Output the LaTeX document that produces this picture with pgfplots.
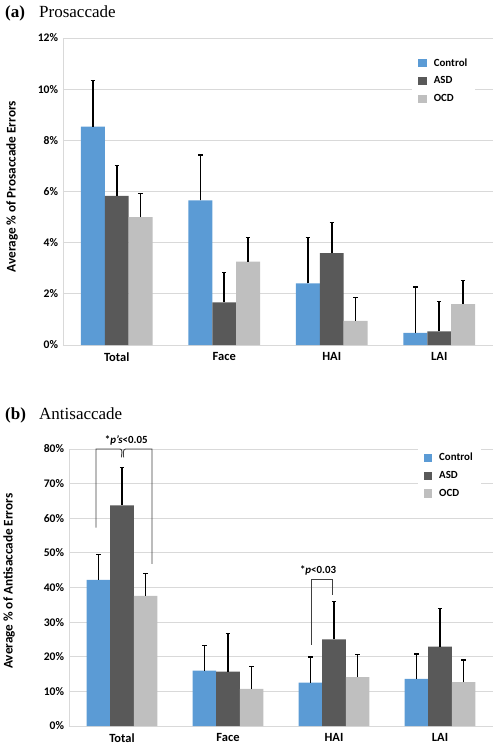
\documentclass[border=0pt]{standalone}
\usepackage{fontspec}
\setmainfont{Liberation Serif}
\newfontfamily\calib{Carlito}
\usepackage{pgfplots}
\usepackage{pgfplotstable}
\pgfplotsset{compat=1.18}
\definecolor{ctrl}{HTML}{5B9BD5}
\definecolor{asd}{HTML}{595959}
\definecolor{ocd}{HTML}{BFBFBF}
\definecolor{gridc}{HTML}{D9D9D9}
\definecolor{brk}{HTML}{404040}

\pgfplotstableread{
x c ce a ae o oe
0 8.54 1.80 5.83 1.19 5.00 0.93
1 5.65 1.78 1.67 1.17 3.26 0.94
2 2.41 1.80 3.59 1.20 0.94 0.93
3 0.47 1.80 0.53 1.18 1.60 0.92
}\proTab

\pgfplotstableread{
x c ce a ae o oe
0 42.2 7.4 63.7 11.0 37.6 6.5
1 16.0 7.3 15.7 11.1 10.7 6.5
2 12.5 7.4 25.0 11.0 14.1 6.6
3 13.6 7.2 22.9 11.0 12.7 6.4
}\antiTab

\pgfplotsset{
  mybar/.style={
    ybar, scale only axis,
    xmin=-0.5, xmax=3.5,
    xtick={0,1,2,3}, xticklabels={Total,Face,HAI,LAI},
    ymin=0,
    bar width=0.222,
    ymajorgrids, grid style={gridc, line width=0.8pt},
    axis x line*=bottom, axis y line*=left,
    axis line style={gridc, line width=0.8pt, -},
    major tick length=0,
    yticklabel style={font=\calib\bfseries\fontsize{11.6}{13}\selectfont, xshift=-1.5pt},
    xticklabel style={font=\calib\bfseries\fontsize{12.5}{14}\selectfont, yshift=-4pt},
    ylabel style={font=\calib\bfseries\fontsize{13.2}{15}\selectfont, anchor=center},
    legend cell align=left,
    legend style={draw=none, fill=white, font=\calib\bfseries\fontsize{10.9}{12}\selectfont,
      anchor=north west, row sep=5pt, inner xsep=6pt, inner ysep=4pt,
      /tikz/every odd column/.append style={column sep=5pt}},
    legend image code/.code={\fill[##1] (0pt,-4.2pt) rectangle (8.5pt,4.2pt);},
    clip=false,
  },
  myerr/.style={
    error bars/.cd, y dir=plus, y explicit,
    error bar style={black, line width=1.6pt},
    error mark options={rotate=90, black, line width=1.3pt, mark size=2.2pt},
  },
}

\begin{document}
\begin{tikzpicture}
\useasboundingbox (0,0) rectangle (501pt,-750pt);

\node[anchor=base west, inner sep=0pt, font=\fontsize{17}{20}\selectfont\bfseries] at (5pt,-17pt) {(a)};
\node[anchor=base west, inner sep=0pt, font=\fontsize{17}{20}\selectfont] at (39pt,-17pt) {Prosaccade};
\node[anchor=base west, inner sep=0pt, font=\fontsize{17}{20}\selectfont\bfseries] at (5pt,-419pt) {(b)};
\node[anchor=base west, inner sep=0pt, font=\fontsize{17}{20}\selectfont] at (39pt,-419pt) {Antisaccade};

\begin{axis}[mybar,
  at={(63pt,-345pt)}, anchor=south west,
  width=430pt, height=307pt,
  ymax=12, ytick={0,2,4,6,8,10,12},
  yticklabels={0\%,2\%,4\%,6\%,8\%,10\%,12\%},
  ylabel={Average \% of Prosaccade Errors},
  ylabel style={at={(axis description cs:-0.1186,0.516)}},
  legend style={at={(axis description cs:0.812,0.953)}},
]
\addplot[fill=ctrl, draw=none, bar shift=-0.222, myerr] table[x=x, y=c, y error=ce] {\proTab};
\addplot[fill=asd, draw=none, bar shift=0, myerr] table[x=x, y=a, y error=ae] {\proTab};
\addplot[fill=ocd, draw=none, bar shift=0.222, myerr] table[x=x, y=o, y error=oe] {\proTab};
\legend{Control, ASD, OCD}
\end{axis}

\begin{axis}[mybar,
  at={(69pt,-726pt)}, anchor=south west,
  width=424pt, height=277pt,
  ymax=80, ytick={0,10,20,30,40,50,60,70,80},
  yticklabels={0\%,10\%,20\%,30\%,40\%,50\%,60\%,70\%,80\%},
  ylabel={Average \% of Antisaccade Errors},
  ylabel style={at={(axis description cs:-0.1415,0.523)}},
  legend style={at={(axis description cs:0.822,1.007)}},
]
\addplot[fill=ctrl, draw=none, bar shift=-0.222, myerr] table[x=x, y=c, y error=ce] {\antiTab};
\addplot[fill=asd, draw=none, bar shift=0, myerr] table[x=x, y=a, y error=ae] {\antiTab};
\addplot[fill=ocd, draw=none, bar shift=0.222, myerr] table[x=x, y=o, y error=oe] {\antiTab};
\legend{Control, ASD, OCD}

\draw[brk, line width=0.9pt] (axis cs:-0.245,57.3) |- (axis cs:-0.02,80) to[out=0,in=90] (axis cs:-0.005,77.6);
\draw[brk, line width=0.9pt] (axis cs:0.015,77.6) to[out=90,in=180] (axis cs:0.035,80) -| (axis cs:0.283,46.8);
\node[font=\calib\bfseries\fontsize{10.9}{12}\selectfont, anchor=base] at (axis cs:0.04,81.5) {*\textit{p’s}<0.05};

\draw[brk, line width=0.9pt] (axis cs:1.79,23.4) |- (axis cs:1.99,42.2) -- (axis cs:1.99,37.8);
\node[font=\calib\bfseries\fontsize{10.9}{12}\selectfont, anchor=base] at (axis cs:1.85,44.0) {*\textit{p}<0.03};
\end{axis}
\end{tikzpicture}
\end{document}
